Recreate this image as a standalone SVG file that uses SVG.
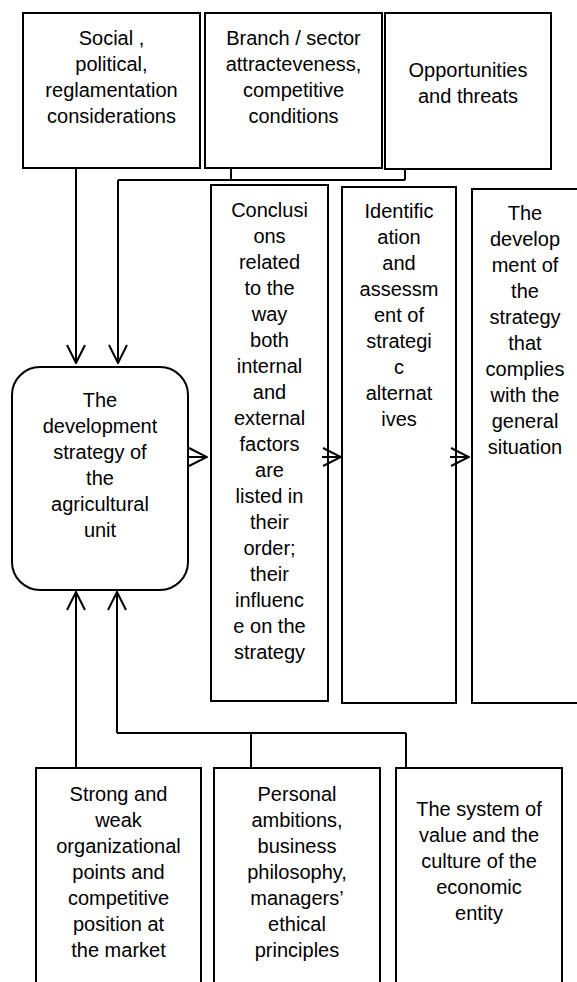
<svg xmlns="http://www.w3.org/2000/svg" width="577" height="982" viewBox="0 0 577 982">
<style>
.b{fill:#fff;stroke:#000;stroke-width:2}
.t{font-family:"Liberation Sans",Arial,sans-serif;font-size:20px;fill:#000;text-anchor:middle}
.c{fill:none;stroke:#000;stroke-width:2}
</style>
<defs>
<marker id="ah" viewBox="0 0 20 20" refX="19" refY="10" markerWidth="20" markerHeight="20" markerUnits="userSpaceOnUse" orient="auto">
<path d="M1,1 L19,10 L1,19" fill="none" stroke="#000" stroke-width="2"/>
</marker>
</defs>
<rect width="577" height="982" fill="#fff"/>
<g id="social">
<rect class="b" x="23" y="13" width="177" height="155"/>
<text class="t"><tspan x="111.5" y="45">Social ,</tspan><tspan x="111.5" y="71">political,</tspan><tspan x="111.5" y="97">reglamentation</tspan><tspan x="111.5" y="123">considerations</tspan></text>
</g>
<g id="branch">
<rect class="b" x="205" y="13" width="177" height="155"/>
<text class="t"><tspan x="293.5" y="45">Branch / sector</tspan><tspan x="293.5" y="71">attracteveness,</tspan><tspan x="293.5" y="97">competitive</tspan><tspan x="293.5" y="123">conditions</tspan></text>
</g>
<g id="opportunities">
<rect class="b" x="385" y="13" width="166" height="156"/>
<text class="t"><tspan x="468" y="77">Opportunities</tspan><tspan x="468" y="103">and threats</tspan></text>
</g>
<g id="conclusions">
<rect class="b" x="211" y="185" width="117" height="516"/>
<text class="t"><tspan x="269.5" y="217">Conclusi</tspan><tspan x="269.5" y="243">ons</tspan><tspan x="269.5" y="269">related</tspan><tspan x="269.5" y="295">to the</tspan><tspan x="269.5" y="321">way</tspan><tspan x="269.5" y="347">both</tspan><tspan x="269.5" y="373">internal</tspan><tspan x="269.5" y="399">and</tspan><tspan x="269.5" y="425">external</tspan><tspan x="269.5" y="451">factors</tspan><tspan x="269.5" y="477">are</tspan><tspan x="269.5" y="503">listed in</tspan><tspan x="269.5" y="529">their</tspan><tspan x="269.5" y="555">order;</tspan><tspan x="269.5" y="581">their</tspan><tspan x="269.5" y="607">influenc</tspan><tspan x="269.5" y="633">e on the</tspan><tspan x="269.5" y="659">strategy</tspan></text>
</g>
<g id="identification">
<rect class="b" x="342" y="187" width="114" height="516"/>
<text class="t"><tspan x="399" y="218">Identific</tspan><tspan x="399" y="244">ation</tspan><tspan x="399" y="270">and</tspan><tspan x="399" y="296">assessm</tspan><tspan x="399" y="322">ent of</tspan><tspan x="399" y="348">strategi</tspan><tspan x="399" y="374">c</tspan><tspan x="399" y="400">alternat</tspan><tspan x="399" y="426">ives</tspan></text>
</g>
<g id="development">
<rect class="b" x="472" y="189" width="130" height="514"/>
<text class="t"><tspan x="525" y="220">The</tspan><tspan x="525" y="246">develop</tspan><tspan x="525" y="272">ment of</tspan><tspan x="525" y="298">the</tspan><tspan x="525" y="324">strategy</tspan><tspan x="525" y="350">that</tspan><tspan x="525" y="376">complies</tspan><tspan x="525" y="402">with the</tspan><tspan x="525" y="428">general</tspan><tspan x="525" y="454">situation</tspan></text>
</g>
<g id="strategy">
<rect class="b" x="12" y="367" width="176" height="223" rx="28" ry="28"/>
<text class="t"><tspan x="100" y="407">The</tspan><tspan x="100" y="433">development</tspan><tspan x="100" y="459">strategy of</tspan><tspan x="100" y="485">the</tspan><tspan x="100" y="511">agricultural</tspan><tspan x="100" y="537">unit</tspan></text>
</g>
<g id="strong">
<rect class="b" x="36" y="768" width="165" height="250"/>
<text class="t"><tspan x="118.5" y="801">Strong and</tspan><tspan x="118.5" y="827">weak</tspan><tspan x="118.5" y="853">organizational</tspan><tspan x="118.5" y="879">points and</tspan><tspan x="118.5" y="905">competitive</tspan><tspan x="118.5" y="931">position at</tspan><tspan x="118.5" y="957">the market</tspan></text>
</g>
<g id="personal">
<rect class="b" x="214" y="768" width="166" height="250"/>
<text class="t"><tspan x="297" y="801">Personal</tspan><tspan x="297" y="827">ambitions,</tspan><tspan x="297" y="853">business</tspan><tspan x="297" y="879">philosophy,</tspan><tspan x="297" y="905">managers’</tspan><tspan x="297" y="931">ethical</tspan><tspan x="297" y="957">principles</tspan></text>
</g>
<g id="values">
<rect class="b" x="396" y="768" width="166" height="250"/>
<text class="t"><tspan x="479" y="816">The system of</tspan><tspan x="479" y="842">value and the</tspan><tspan x="479" y="868">culture of the</tspan><tspan x="479" y="894">economic</tspan><tspan x="479" y="920">entity</tspan></text>
</g>
<g id="connectors">
<path class="c" d="M76,168 V363" marker-end="url(#ah)"/>
<path class="c" d="M231,168 V180 M405,169 V180 M118,180 H405"/>
<path class="c" d="M118,180 V363" marker-end="url(#ah)"/>
<path class="c" d="M76,768 V592" marker-end="url(#ah)"/>
<path class="c" d="M251,768 V733 M406,768 V733 M117,733 H406"/>
<path class="c" d="M117,733 V592" marker-end="url(#ah)"/>
<path class="c" d="M188,457 H207" marker-end="url(#ah)"/>
<path class="c" d="M322,457 H341" marker-end="url(#ah)"/>
<path class="c" d="M450,457 H469" marker-end="url(#ah)"/>
</g>
</svg>
